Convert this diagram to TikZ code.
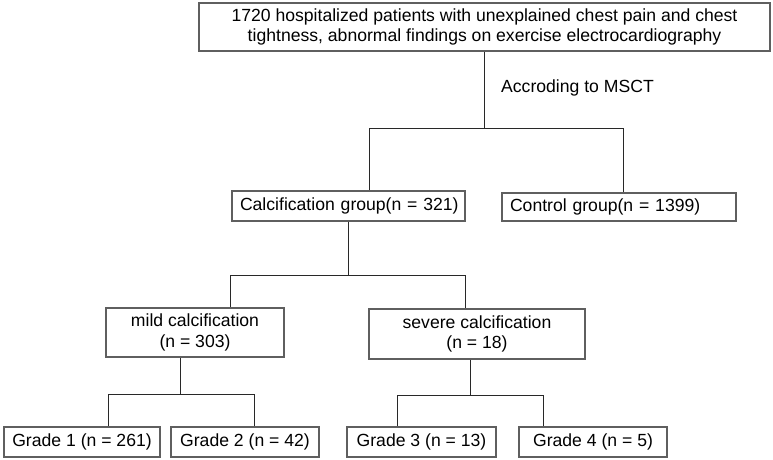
\documentclass[tikz,border=0pt]{standalone}
\usepackage{fontspec}
\setmainfont{Liberation Sans}
\usetikzlibrary{calc}
\definecolor{pline}{RGB}{40,40,40}
\definecolor{pedge}{RGB}{95,95,95}

\begin{document}
\begin{tikzpicture}[
  x=1pt, y=-1pt,
  font=\fontsize{17.6}{20.5}\selectfont,
  box/.style  ={rectangle, draw=pedge, line width=1.1pt, fill=white, inner sep=0pt, align=center},
  lbox/.style ={box, align=left, inner xsep=8pt},
  link/.style ={line width=1pt, pline},
  lab/.style  ={anchor=west, inner sep=0pt},
]
\useasboundingbox (0,0) rectangle (773,460);

% ---- nodes: one box per group, top to bottom
\node[box, minimum width=571pt, minimum height=48pt] (all) at (484.5,27)
  {1720 hospitalized patients with unexplained chest pain and chest\\ tightness, abnormal findings on exercise electrocardiography};
\node[lbox, text width=217pt, minimum height=30pt] (calc) at (348.5,206) {\mbox{Calcification group(n = 321)}};
\node[lbox, text width=218pt, minimum height=28pt] (ctrl) at (619,207) {\mbox{Control group(n = 1399)}};
\node[box, minimum width=178pt, minimum height=49pt] (mild) at (195,332.5) {mild calcification\\ (n = 303)};
\node[box, minimum width=216pt, minimum height=50pt] (sev)  at (477,334) {severe calcification\\ (n = 18)};
\node[box, minimum width=156pt, minimum height=30pt] (g1) at (82,442)    {Grade 1 (n = 261)};
\node[box, minimum width=148pt, minimum height=30pt] (g2) at (245,442)   {Grade 2 (n = 42)};
\node[box, minimum width=149pt, minimum height=30pt] (g3) at (421.5,442) {Grade 3 (n = 13)};
\node[box, minimum width=148pt, minimum height=30pt] (g4) at (593,442)   {Grade 4 (n = 5)};

\node[lab] (msct) at (501,88) {Accroding to MSCT};

% ---- branch points
\coordinate (b1l) at (369,128);
\coordinate (b1r) at (623,128);
\coordinate (b2l) at (230,275);
\coordinate (b2r) at (465,275);
\coordinate (t3)  at (180,394);
\coordinate (b3l) at (108,394);
\coordinate (b3r) at (254,394);
\coordinate (t4)  at (470,395);
\coordinate (b4l) at (397,395);
\coordinate (b4r) at (543,395);

% ---- connectors (elbows)
\draw[link] (all.south) -- (all.south |- b1l);
\draw[link] (b1l) -- (b1r);
\draw[link] (b1l) -- (b1l |- calc.north);
\draw[link] (b1r) -- (b1r |- ctrl.north);

\draw[link] (calc.south) -- (calc.south |- b2l);
\draw[link] (b2l) -- (b2r);
\draw[link] (b2l) -- (b2l |- mild.north);
\draw[link] (b2r) -- (b2r |- sev.north);

\draw[link] (t3 |- mild.south) -- (t3);
\draw[link] (b3l) -- (b3r);
\draw[link] (b3l) -- (b3l |- g1.north);
\draw[link] (b3r) -- (b3r |- g2.north);

\draw[link] (t4 |- sev.south) -- (t4);
\draw[link] (b4l) -- (b4r);
\draw[link] (b4l) -- (b4l |- g3.north);
\draw[link] (b4r) -- (b4r |- g4.north);

\end{tikzpicture}
\end{document}
